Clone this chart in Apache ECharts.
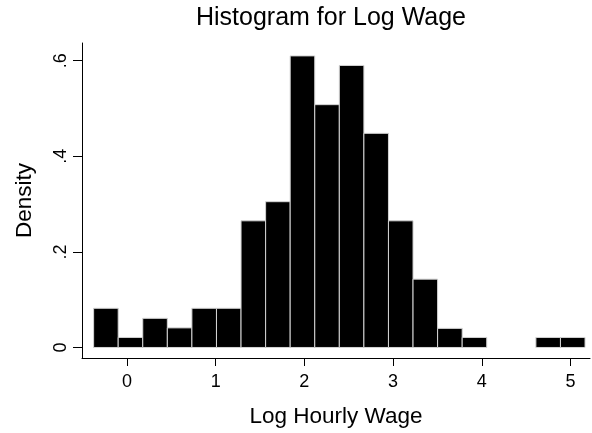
<!DOCTYPE html>
<html>
<head>
<meta charset="utf-8">
<script src="https://cdn.jsdelivr.net/npm/echarts@6/dist/echarts.min.js"></script>
<style>
  html, body { margin: 0; padding: 0; background: #fff; }
  #main { width: 592px; height: 433px; }
</style>
</head>
<body>
<div id="main"></div>
<script>
// lower edge of each bin (width binWidth)
const binLow = [-0.376, -0.099, 0.178, 0.455, 0.732, 1.009, 1.286, 1.563, 1.840, 2.117,
                2.394, 2.671, 2.948, 3.225, 3.502, 3.779, 4.056, 4.333, 4.610, 4.887];
const binWidth = 0.277;
const density = [0.082, 0.021, 0.061, 0.041, 0.082, 0.082, 0.265, 0.305, 0.610, 0.508,
                 0.590, 0.448, 0.265, 0.143, 0.040, 0.021, 0, 0, 0.021, 0.021];
const xTicks = [0, 1, 2, 3, 4, 5];
const yTicks = [0, 0.2, 0.4, 0.6];
const yTickLabels = ['0', '.2', '.4', '.6'];

const font = '"Liberation Sans", Arial, Helvetica, sans-serif';
const chart = echarts.init(document.getElementById('main'));

chart.setOption({
  backgroundColor: '#fff',
  animation: false,
  title: {
    text: 'Histogram for Log Wage',
    left: 331, top: 6, padding: 0, textAlign: 'center',
    textStyle: { fontFamily: font, fontSize: 25, fontWeight: 'normal', color: '#000' }
  },
  grid: { left: 82, right: 2, top: 43, bottom: 73 },
  xAxis: {
    type: 'value', min: -0.507, max: 5.22,
    name: 'Log Hourly Wage', nameLocation: 'middle', nameGap: 47,
    nameTextStyle: { fontFamily: font, fontSize: 22.5, color: '#000' },
    axisLine: { onZero: false, lineStyle: { color: '#000', width: 1 } },
    axisTick: { show: true, length: 8, customValues: xTicks, lineStyle: { color: '#000' } },
    axisLabel: { customValues: xTicks, margin: 15, fontFamily: font, fontSize: 18, color: '#000' },
    splitLine: { show: false }
  },
  yAxis: {
    type: 'value', min: -0.022, max: 0.637,
    name: 'Density', nameLocation: 'middle', nameGap: 46,
    nameTextStyle: { fontFamily: font, fontSize: 22.5, color: '#000' },
    axisLine: { show: true, onZero: false, lineStyle: { color: '#000', width: 1 } },
    axisTick: { show: true, length: 9, customValues: yTicks, lineStyle: { color: '#000' } },
    axisLabel: {
      customValues: yTicks, rotate: 90, margin: 12,
      fontFamily: font, fontSize: 18, color: '#000',
      formatter: v => yTickLabels[yTicks.indexOf(Math.round(v * 10) / 10)] ?? ''
    },
    splitLine: { show: false }
  },
  series: [{
    type: 'custom',
    data: binLow.map((lo, i) => [lo, lo + binWidth, density[i]]),
    encode: { x: [0, 1], y: 2 },
    renderItem: (params, api) => {
      const d = api.value(2);
      if (!d) return null;
      const p0 = api.coord([api.value(0), d]);
      const p1 = api.coord([api.value(1), 0]);
      return {
        type: 'rect',
        shape: { x: p0[0], y: p0[1], width: p1[0] - p0[0], height: p1[1] - p0[1] },
        style: { fill: '#000', stroke: '#d4d4d4', lineWidth: 1 }
      };
    }
  }]
});
</script>
</body>
</html>
